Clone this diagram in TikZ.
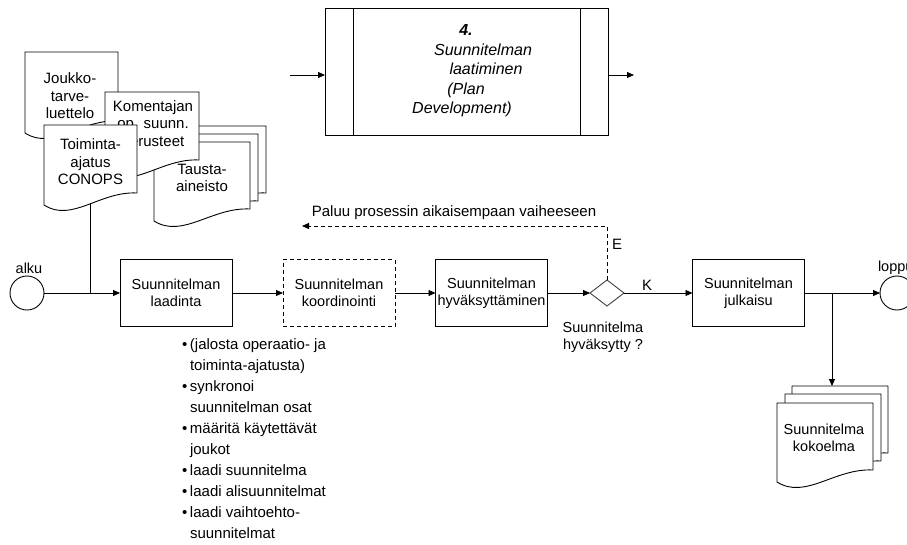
\documentclass[tikz,border=0pt]{standalone}
\usepackage{fontspec}
\setmainfont{Liberation Sans}
\usetikzlibrary{arrows.meta,shapes.geometric}
\newcommand{\docpath}[4]{(#1,#2) -- (#1,#2+#4) .. controls (#1+0.3*#3,#2+#4+18) and (#1+0.6*#3,#2+#4-14) .. (#1+#3,#2+#4-12) -- (#1+#3,#2) -- cycle}
\begin{document}
\begin{tikzpicture}[x=1pt,y=-1pt,line width=0.9pt,
  every node/.style={inner sep=0pt,outer sep=0pt},
  proc/.style={draw,minimum width=112pt,minimum height=67pt,align=center,font=\fontsize{14.5}{17}\selectfont},
  doctext/.style={align=center,font=\fontsize{15}{17.5}\selectfont},
  docshape/.style={draw,fill=white},
  arr/.style={-{Triangle[length=7pt,width=6pt]}},
  lbl/.style={font=\fontsize{15}{18}\selectfont},
  evt/.style={circle,draw,minimum size=34pt},
]
\useasboundingbox (0,0) rectangle (907,544);

% top process box
\node[draw,minimum width=283pt,minimum height=127pt] (top) at (466.5,71.5) {};
\draw ([xshift=28pt]top.north west) -- ([xshift=28pt]top.south west);
\draw ([xshift=-28pt]top.north east) -- ([xshift=-28pt]top.south east);
\node[align=center,font=\fontsize{16}{19.5}\selectfont\itshape] (toptext) at (466,71)
  {\textbf{4.}\\\hspace*{34pt}Suunnitelman\\\hspace*{40pt}laatiminen\\(Plan\hspace*{8pt}\\Development)\hspace*{8pt}};
\coordinate (tin) at (290,75);
\coordinate (tout) at (634,75);
\draw[arr] (tin) -- (tin -| top.west);
\draw[arr] (tout -| top.east) -- (tout);

% connector from CONOPS (drawn below the documents)
\coordinate (conops) at (90,190);
\coordinate (junc) at (90,293);
\draw (conops) -- (junc);

% documents top left
\draw[docshape] \docpath{170}{126}{96}{79};
\draw[docshape] \docpath{162}{134}{96}{79};
\draw[docshape] \docpath{154}{142}{96}{79};
\node[doctext] (tausta) at (202,178) {Tausta-\\aineisto};
\draw[docshape] \docpath{25}{52}{93}{81};
\node[doctext] (joukko) at (70,96) {Joukko-\\tarve-\\luettelo};
\draw[docshape] \docpath{105}{92}{94}{80};
\node[doctext] (koment) at (153,125) {Komentajan\\op. suunn.\\perusteet};
\draw[docshape] \docpath{44}{125}{93}{80};
\node[doctext] (conopstext) at (90.5,162) {Toiminta-\\ajatus\\CONOPS};

% main flow
\node[evt] (alku) at (27,293) {};
\node[lbl,font=\fontsize{14.5}{17}\selectfont] (alkutext) at (29,268) {alku};
\node[proc] (laad) at (176,293) {Suunnitelman\\laadinta};
\node[proc,dash pattern=on 4pt off 3pt] (koord) at (339,293) {Suunnitelman\\koordinointi};
\node[proc] (hyv) at (491.5,293) {Suunnitelman\\hyväksyttäminen};
\node[diamond,draw=black!75,minimum width=34pt,minimum height=26pt] (dec) at (607,293) {};
\node[proc] (julk) at (748.5,293) {Suunnitelman\\julkaisu};
\node[evt] (loppu) at (897,293) {};
\node[font=\fontsize{14.5}{17}\selectfont,anchor=west] (lopputext) at (878,268) {loppu};

\draw (alku) -- (junc);
\draw[arr] (junc) -- (laad);
\draw[arr] (laad) -- (koord);
\draw[arr] (koord) -- (hyv);
\draw[arr] (hyv) -- (dec);
\draw[arr] (dec) -- (julk);
\node[lbl] (K) at (647,285) {K};
\draw[arr] (julk) -- (loppu);

\node[align=center,font=\fontsize{14.5}{17}\selectfont] (dectext) at (603,337) {Suunnitelma\\hyväksytty ?};

% return path
\coordinate (ret1) at (607,226);
\coordinate (retend) at (302,226);
\draw[arr,dash pattern=on 4pt off 3pt] (dec.north) -- (ret1) -- (retend);
\node[lbl] (E) at (617,244) {E};
\node[lbl] (paluu) at (454,213) {Paluu prosessin aikaisempaan vaiheeseen};

% output documents
\coordinate (brc) at (832,293);
\coordinate (kokotop) at (832,386);
\draw[arr] (brc) -- (kokotop);
\draw[docshape] \docpath{792}{386}{96}{79};
\draw[docshape] \docpath{785}{394}{96}{79};
\draw[docshape] \docpath{777}{403}{96}{79};
\node[doctext,font=\fontsize{14.5}{17}\selectfont] (koko) at (824,438) {Suunnitelma\\kokoelma};

% bullet list
\node[anchor=base west,align=left,font=\fontsize{15}{20.9}\selectfont] (bullets) at (182,538)
 {\makebox[8pt][l]{•}(jalosta operaatio- ja\\
  \hspace*{8pt}toiminta-ajatusta)\\
  \makebox[8pt][l]{•}synkronoi\\
  \hspace*{8pt}suunnitelman osat\\
  \makebox[8pt][l]{•}määritä käytettävät\\
  \hspace*{8pt}joukot\\
  \makebox[8pt][l]{•}laadi suunnitelma\\
  \makebox[8pt][l]{•}laadi alisuunnitelmat\\
  \makebox[8pt][l]{•}laadi vaihtoehto-\\
  \hspace*{8pt}suunnitelmat};
\end{tikzpicture}
\end{document}
